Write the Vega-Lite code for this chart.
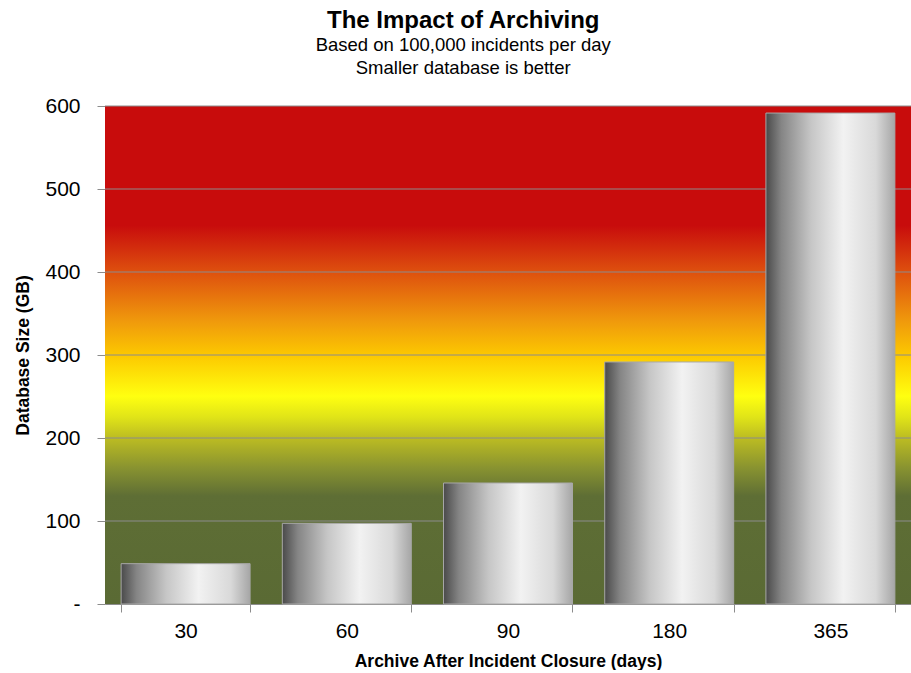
{
  "$schema": "https://vega.github.io/schema/vega-lite/v6.json",
  "width": 806,
  "height": 498,
  "padding": {"left": 14, "top": 8, "right": 0, "bottom": 0},
  "title": {
    "text": "The Impact of Archiving",
    "subtitle": ["Based on 100,000 incidents per day", "Smaller database is better"],
    "anchor": "middle",
    "frame": "bounds",
    "font": "Liberation Sans",
    "fontSize": 24,
    "fontWeight": "bold",
    "color": "#000000",
    "subtitleFont": "Liberation Sans",
    "subtitleFontSize": 18.5,
    "subtitleColor": "#000000",
    "subtitlePadding": 3,
    "subtitleLineHeight": 23,
    "offset": 18
  },
  "config": {
    "view": {"stroke": null},
    "axis": {
      "labelFont": "Liberation Sans",
      "titleFont": "Liberation Sans",
      "labelColor": "#000000",
      "titleColor": "#000000",
      "domainColor": "#8c8c8c",
      "tickColor": "#8c8c8c"
    }
  },
  "layer": [
    {
      "data": {"values": [{"lo": 0, "hi": 600}]},
      "mark": {
        "type": "rect",
        "fill": {
          "gradient": "linear",
          "x1": 0, "y1": 0, "x2": 0, "y2": 1,
          "stops": [
            {"offset": 0, "color": "#c80c0c"},
            {"offset": 0.24, "color": "#c80c0c"},
            {"offset": 0.333, "color": "#de500e"},
            {"offset": 0.433, "color": "#f09a0c"},
            {"offset": 0.5, "color": "#fcc800"},
            {"offset": 0.583, "color": "#ffff10"},
            {"offset": 0.625, "color": "#e0e418"},
            {"offset": 0.667, "color": "#bcbc22"},
            {"offset": 0.725, "color": "#8a9430"},
            {"offset": 0.783, "color": "#5e6e35"},
            {"offset": 1, "color": "#5a6a34"}
          ]
        }
      },
      "encoding": {
        "y": {
          "field": "lo",
          "type": "quantitative",
          "scale": {"domain": [0, 600], "nice": false},
          "title": "Database Size (GB)",
          "axis": {
            "title": "Database Size (GB)",
            "values": [0, 100, 200, 300, 400, 500, 600],
            "labelExpr": "datum.value == 0 ? '-\u00a0\u00a0\u00a0' : datum.label",
            "grid": false,
            "labelFontSize": 21,
            "labelPadding": 17,
            "tickSize": 8,
            "titleFontSize": 17.5,
            "titleFontWeight": "bold",
            "titlePadding": 12
          }
        },
        "y2": {"field": "hi"}
      }
    },
    {
      "data": {"values": [{"g": 100}, {"g": 200}, {"g": 300}, {"g": 400}, {"g": 500}, {"g": 600}]},
      "mark": {"type": "rule", "color": "#8c8c8c", "strokeWidth": 1},
      "encoding": {
        "y": {
          "field": "g",
          "type": "quantitative",
          "title": "Database Size (GB)",
          "axis": {
            "title": "Database Size (GB)",
            "values": [0, 100, 200, 300, 400, 500, 600],
            "labelExpr": "datum.value == 0 ? '-\u00a0\u00a0\u00a0' : datum.label",
            "grid": false,
            "labelFontSize": 21,
            "labelPadding": 17,
            "tickSize": 8,
            "titleFontSize": 17.5,
            "titleFontWeight": "bold",
            "titlePadding": 12
          }
        }
      }
    },
    {
      "data": {
        "values": [
          {"days": 30, "size": 48.6},
          {"days": 60, "size": 97.2},
          {"days": 90, "size": 145.8},
          {"days": 180, "size": 291.6},
          {"days": 365, "size": 591.5}
        ]
      },
      "mark": {
        "type": "bar",
        "stroke": "#a8a8a8",
        "strokeWidth": 1,
        "fill": {
          "gradient": "linear",
          "x1": 0, "y1": 0, "x2": 1, "y2": 0,
          "stops": [
            {"offset": 0, "color": "#4a4a4a"},
            {"offset": 0.12, "color": "#858585"},
            {"offset": 0.35, "color": "#c6c6c6"},
            {"offset": 0.6, "color": "#f2f2f2"},
            {"offset": 0.85, "color": "#d9d9d9"},
            {"offset": 1, "color": "#a6a6a6"}
          ]
        }
      },
      "encoding": {
        "x": {
          "field": "days",
          "type": "ordinal",
          "scale": {"paddingInner": 0.2, "paddingOuter": 0.1},
          "axis": {
            "title": "Archive After Incident Closure (days)",
            "labelAngle": 0,
            "labelFontSize": 21,
            "labelPadding": 8,
            "tickBand": "extent",
            "tickSize": 8,
            "titleFontSize": 17.5,
            "titleFontWeight": "bold",
            "titlePadding": 11
          }
        },
        "y": {
          "field": "size",
          "type": "quantitative",
          "scale": {"domain": [0, 600], "nice": false},
          "title": "Database Size (GB)",
          "axis": {
            "title": "Database Size (GB)",
            "values": [0, 100, 200, 300, 400, 500, 600],
            "labelExpr": "datum.value == 0 ? '-\u00a0\u00a0\u00a0' : datum.label",
            "grid": false,
            "labelFontSize": 21,
            "labelPadding": 17,
            "tickSize": 8,
            "titleFontSize": 17.5,
            "titleFontWeight": "bold",
            "titlePadding": 12
          }
        }
      }
    }
  ]
}
